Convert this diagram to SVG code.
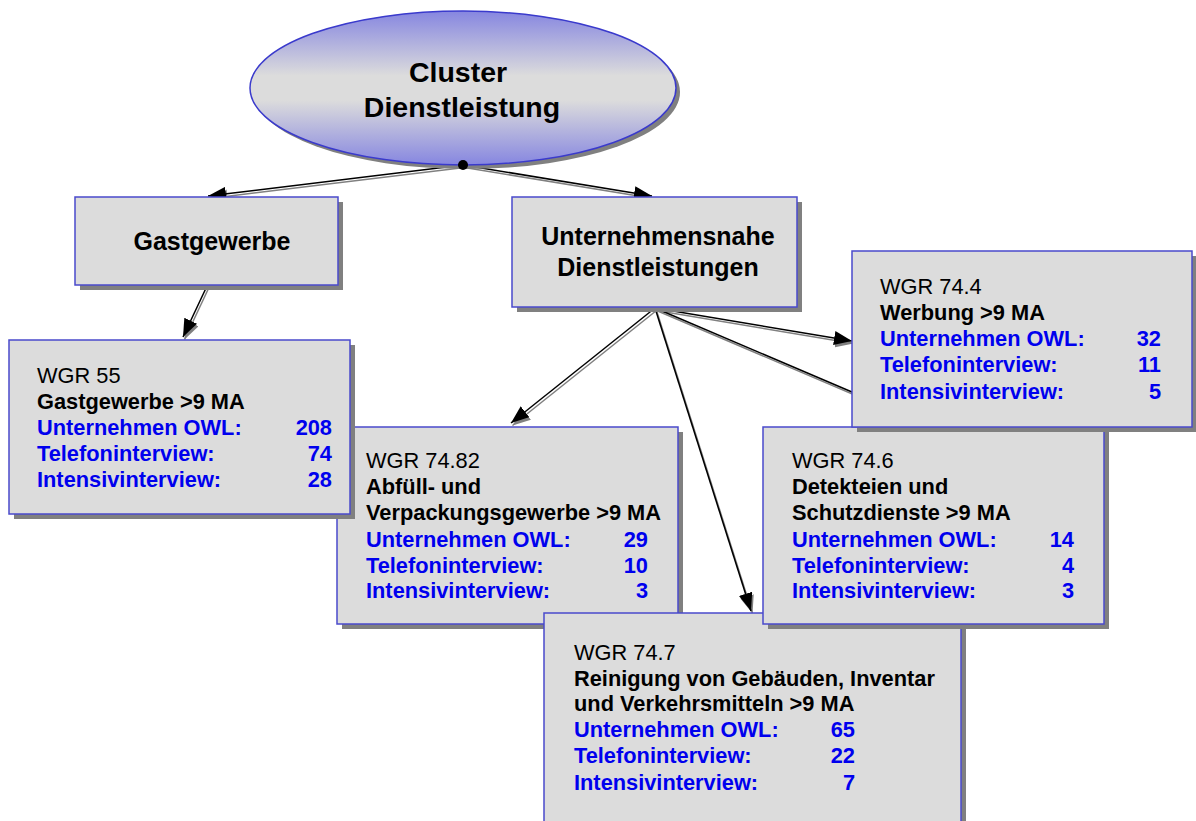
<svg xmlns="http://www.w3.org/2000/svg" width="1196" height="821" viewBox="0 0 1196 821">
<defs>
<linearGradient id="eg" x1="0" y1="0" x2="0" y2="1">
<stop offset="0" stop-color="#8686e0"/>
<stop offset="0.42" stop-color="#dcdcdc"/>
<stop offset="0.58" stop-color="#dcdcdc"/>
<stop offset="1" stop-color="#8686e0"/>
</linearGradient>
<marker id="ah" viewBox="0 0 18 14" refX="18" refY="7" markerWidth="18" markerHeight="14" markerUnits="userSpaceOnUse" orient="auto">
<path d="M0,0 L18,7 L0,14 Z" fill="#000"/>
</marker>
<marker id="ahs" viewBox="0 0 18 14" refX="18" refY="7" markerWidth="18" markerHeight="14" markerUnits="userSpaceOnUse" orient="auto">
<path d="M0,0 L18,7 L0,14 Z" fill="#808080"/>
</marker>
</defs>
<style>
.sh{fill:#808080}
.box{fill:#dcdcdc;stroke:#4a4acc;stroke-width:1.5}
.t{font-family:"Liberation Sans",Arial,sans-serif;font-size:21.8px;fill:#000}
.b{font-weight:bold}
.bl{font-weight:bold;fill:#0000ee}
.n{text-anchor:end}
.hd{font-family:"Liberation Sans",Arial,sans-serif;font-size:25px;font-weight:bold;text-anchor:middle}
.cs{stroke:#808080;stroke-width:1.5;fill:none;marker-end:url(#ahs)}
.cb{stroke:#000;stroke-width:1.5;fill:none;marker-end:url(#ah)}
.cn{stroke:#000;stroke-width:1.5;fill:none}
.cns{stroke:#808080;stroke-width:1.5;fill:none}
</style>

<g id="connectors">
<g transform="translate(1.5,2.5)">
<line class="cs" x1="463" y1="165" x2="208" y2="196"/>
<line class="cs" x1="463" y1="165" x2="652" y2="196"/>
<line class="cs" x1="207" y1="286" x2="183" y2="337"/>
<line class="cs" x1="655" y1="308" x2="511" y2="423"/>
<line class="cs" x1="655" y1="308" x2="751" y2="611"/>
<line class="cs" x1="655" y1="308" x2="852" y2="341"/>
<line class="cns" x1="655" y1="308" x2="934" y2="427"/>
</g>
<line class="cb" x1="463" y1="165" x2="208" y2="196"/>
<line class="cb" x1="463" y1="165" x2="652" y2="196"/>
<line class="cb" x1="207" y1="286" x2="183" y2="337"/>
<line class="cb" x1="655" y1="308" x2="511" y2="423"/>
<line class="cb" x1="655" y1="308" x2="751" y2="611"/>
<line class="cb" x1="655" y1="308" x2="852" y2="341"/>
<line class="cn" x1="655" y1="308" x2="934" y2="427"/>
</g>

<g id="cluster">
<ellipse cx="467" cy="92" rx="213" ry="77" class="sh"/>
<ellipse cx="463" cy="88" rx="213" ry="77" fill="url(#eg)" stroke="#3a3acc" stroke-width="1.5"/>
<text x="458" y="82" font-family="'Liberation Sans',Arial,sans-serif" font-size="28.5" font-weight="bold" text-anchor="middle">Cluster</text>
<text x="462" y="117" font-family="'Liberation Sans',Arial,sans-serif" font-size="28.5" font-weight="bold" text-anchor="middle">Dienstleistung</text>
<circle cx="463" cy="165" r="5" fill="#000"/>
</g>

<g id="gastgewerbe">
<rect x="80" y="202" width="263" height="88" class="sh"/>
<rect x="75" y="197" width="263" height="88" class="box"/>
<text x="212" y="250" class="hd">Gastgewerbe</text>
</g>

<g id="unternehmensnahe">
<rect x="517" y="202" width="285" height="110" class="sh"/>
<rect x="512" y="197" width="285" height="110" class="box"/>
<text x="658" y="245" class="hd">Unternehmensnahe</text>
<text x="658" y="276" class="hd">Dienstleistungen</text>
</g>

<g id="wgr7482">
<rect x="342" y="432" width="341" height="197" class="sh"/>
<rect x="337" y="427" width="341" height="197" class="box"/>
<text class="t" x="366" y="468">WGR 74.82</text>
<text class="t b" x="366" y="494">Abfüll- und</text>
<text class="t b" x="366" y="520">Verpackungsgewerbe &gt;9 MA</text>
<text class="t bl" x="366" y="547">Unternehmen OWL:</text>
<text class="t bl n" x="648" y="547">29</text>
<text class="t bl" x="366" y="573">Telefoninterview:</text>
<text class="t bl n" x="648" y="573">10</text>
<text class="t bl" x="366" y="598">Intensivinterview:</text>
<text class="t bl n" x="648" y="598">3</text>
</g>

<g id="wgr55">
<rect x="14" y="345" width="341" height="174" class="sh"/>
<rect x="9" y="340" width="341" height="174" class="box"/>
<text class="t" x="37" y="383">WGR 55</text>
<text class="t b" x="37" y="409">Gastgewerbe &gt;9 MA</text>
<text class="t bl" x="37" y="435">Unternehmen OWL:</text>
<text class="t bl n" x="332" y="435">208</text>
<text class="t bl" x="37" y="461">Telefoninterview:</text>
<text class="t bl n" x="332" y="461">74</text>
<text class="t bl" x="37" y="487">Intensivinterview:</text>
<text class="t bl n" x="332" y="487">28</text>
</g>

<g id="wgr747">
<rect x="549" y="618" width="417" height="220" class="sh"/>
<rect x="544" y="613" width="417" height="220" class="box"/>
<text class="t" x="574" y="660">WGR 74.7</text>
<text class="t b" x="574" y="686">Reinigung von Gebäuden, Inventar</text>
<text class="t b" x="574" y="711">und Verkehrsmitteln &gt;9 MA</text>
<text class="t bl" x="574" y="737">Unternehmen OWL:</text>
<text class="t bl n" x="855" y="737">65</text>
<text class="t bl" x="574" y="763">Telefoninterview:</text>
<text class="t bl n" x="855" y="763">22</text>
<text class="t bl" x="574" y="790">Intensivinterview:</text>
<text class="t bl n" x="855" y="790">7</text>
</g>

<g id="wgr746">
<rect x="768" y="432" width="341" height="197" class="sh"/>
<rect x="763" y="427" width="341" height="197" class="box"/>
<text class="t" x="792" y="468">WGR 74.6</text>
<text class="t b" x="792" y="494">Detekteien und</text>
<text class="t b" x="792" y="520">Schutzdienste &gt;9 MA</text>
<text class="t bl" x="792" y="547">Unternehmen OWL:</text>
<text class="t bl n" x="1074" y="547">14</text>
<text class="t bl" x="792" y="573">Telefoninterview:</text>
<text class="t bl n" x="1074" y="573">4</text>
<text class="t bl" x="792" y="598">Intensivinterview:</text>
<text class="t bl n" x="1074" y="598">3</text>
</g>

<g id="wgr744">
<rect x="857" y="256" width="340" height="176" class="sh"/>
<rect x="852" y="251" width="340" height="176" class="box"/>
<text class="t" x="880" y="294">WGR 74.4</text>
<text class="t b" x="880" y="320">Werbung &gt;9 MA</text>
<text class="t bl" x="880" y="346">Unternehmen OWL:</text>
<text class="t bl n" x="1161" y="346">32</text>
<text class="t bl" x="880" y="372">Telefoninterview:</text>
<text class="t bl n" x="1161" y="372">11</text>
<text class="t bl" x="880" y="399">Intensivinterview:</text>
<text class="t bl n" x="1161" y="399">5</text>
</g>
</svg>
